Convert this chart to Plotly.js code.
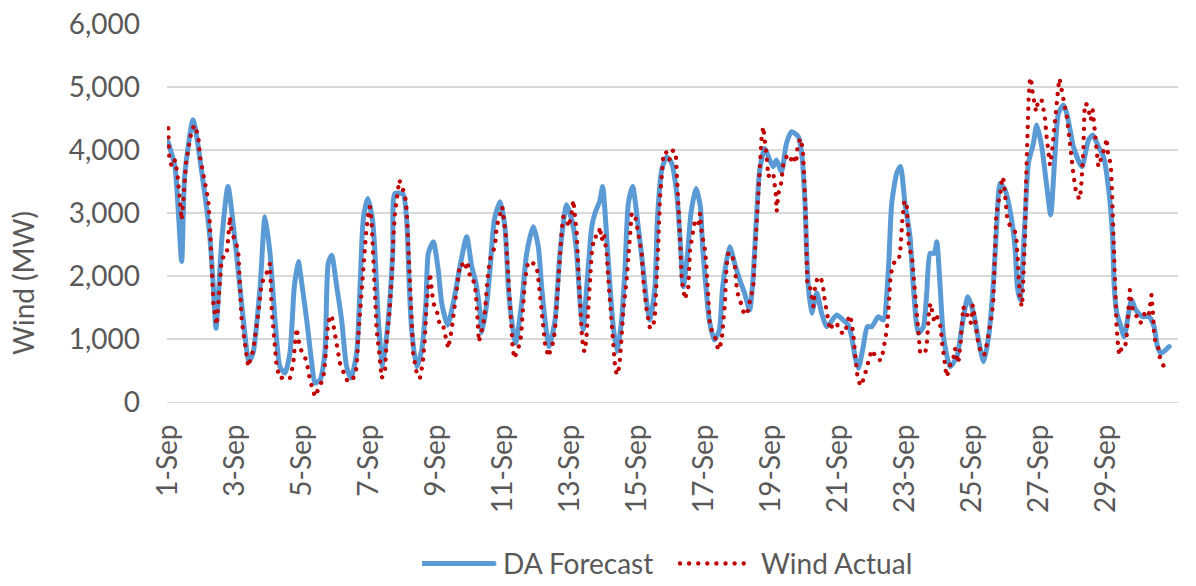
<!DOCTYPE html>
<html>
<head>
<meta charset="utf-8">
<script src="https://cdn.plot.ly/plotly-3.0.1.min.js"></script>
<style>
  html, body { margin: 0; padding: 0; background: #ffffff; }
  #chart { width: 1196px; height: 586px; }
  .js-line { stroke-linecap: round; stroke-linejoin: round; }
</style>
</head>
<body>
<div id="chart"></div>
<script>
// ---- Data (hour offsets from 1-Sep 00:00, MW values) ----
const dayLabels = ['1-Sep','3-Sep','5-Sep','7-Sep','9-Sep','11-Sep','13-Sep','15-Sep',
                   '17-Sep','19-Sep','21-Sep','23-Sep','25-Sep','27-Sep','29-Sep'];

const forecastHours = [0,5,9.8,12,18,25,30,32.5,34.4,38.7,43,49,54,58,61,66,69.5,73.1,76.7,80.2,83.8,87.4,90.5,93.4,95.8,99.4,103,105.3,108.9,112.4,114.8,117.3,120.9,124.4,128,131.1,135.2,137.6,139.9,143.1,146.5,148.3,150.7,153.8,157.8,161,162.6,168.4,171,172.9,174.6,178.2,181.8,184.8,186.5,190.1,193.6,196.1,200.4,204.4,209.2,214,217.6,220.5,223.6,224.8,228.4,230.7,233.8,237.9,241.4,243.8,246.2,249.1,253.4,257,261.7,265.3,267.7,270.1,273,277.3,280.8,285.6,290.4,292.8,295.5,297.5,300,303.6,305.9,309.5,311.4,314.3,316.7,319,321.9,325,327.4,329.8,332.9,336.9,340.5,343,345.3,348.9,350.6,353.7,357.3,360.9,364.5,366.8,369.2,372,374.7,378.3,381.4,383,385.4,387.8,391.4,395,397.4,402.4,406,409.6,413.1,416.7,419.1,421.5,423.9,427.5,431.1,433.5,435.9,439.5,443.1,446.7,451.6,454,456.4,457.6,458.8,461.2,464.8,468.3,471.9,479.1,483.8,487.4,489.8,492.2,494.6,498.1,501,504.2,508.9,512.5,516.1,518.5,522.1,524.8,528,531.6,534,537.6,541.2,543.6,546,549.1,550.8,553.2,555.6,560.4,565.2,568.8,573.1,577.1,580.7,584.3,587.9,591.5,593.9,596.1,599.7,603.2,606.8,608.5,610.4,614,616.4,620,622.4,626,629.6,632.4,635.5,637.9,641.5,643.9,646.3,648.7,654.7,659.5,662.6,666.7,670.3,674.3,676.7,677.9,679.8,682.7,685,688.6,690.3,693.4,698.2,702.9,706.5,708.9,711.3,717.3];
const forecastMW = [4130,3735,2230,3600,4480,3520,2620,1830,1170,2620,3420,2360,1300,640,780,1830,2940,2360,1300,560,460,780,1830,2230,1890,1300,620,300,350,780,2200,2330,1830,1300,560,380,780,1830,2890,3230,2900,2360,1300,560,1300,2360,3310,3300,2890,1830,1140,560,830,1570,2360,2545,2100,1570,1220,1570,2150,2625,2150,1900,1410,1100,1570,2100,2890,3180,2780,1830,1300,935,1570,2360,2780,2465,1830,1300,880,1300,2360,3130,2780,2360,1500,1150,1830,2780,2995,3200,3420,2625,1830,1195,800,1300,2100,3150,3420,2780,2100,1570,1300,1830,2890,3680,3890,3790,3310,2625,1830,2300,3000,3390,3100,2465,1830,1300,985,1140,1830,2465,2200,1940,1730,1460,1940,2890,3680,4025,3840,3735,3840,3655,4105,4290,4210,3945,3150,2360,1830,1410,1730,1410,1195,1380,1300,1220,1035,720,535,880,1195,1195,1355,1300,2100,3150,3630,3740,3150,2625,1830,1090,1195,1730,2360,2360,2545,1830,1035,560,720,1195,1670,1410,985,640,1035,1940,2890,3470,3365,3050,2465,1830,1620,2890,3790,4105,4395,4050,3420,2970,3945,4580,4715,4580,4320,4050,3735,4160,4240,4050,3890,3300,2625,1830,1410,1195,1035,1460,1620,1460,1355,1355,1195,880,770,880];

const actualHours = [0.2,0.9,2.7,5,6.7,8.6,9.8,11,12.9,15.3,17,19.3,21.7,22.9,24.1,26.5,28.9,30.1,31.3,32.5,34.9,37.3,38.5,42.1,43.2,44.4,45.6,48.7,50.4,51.6,52.8,57.5,61.1,64.7,67.1,70.7,73.1,74.3,76.2,77.9,80.2,83.8,87.4,89.8,91,92.2,94.6,96.9,99.4,101.7,105.3,107.7,110.1,112,113.7,114.8,117.3,119.6,120.9,123.2,128,131.1,134,135.2,136.3,138.3,139.9,141.9,144,144.7,145.9,147.1,148.3,149.5,151.4,153.1,155.5,156.7,158.6,160.3,161.5,162.6,165.7,167.4,169.8,171,172.2,173.4,174.6,175.7,178.2,180.5,182.5,184.1,185.3,186.5,187.7,190.1,192.5,193.6,194.9,197.2,199.2,200.8,203.2,204.9,206.8,208.7,210.4,212.8,214.4,216.4,217.6,219.9,221.1,221.8,222.7,225.8,227,228.9,230.5,232.2,234.3,235.4,237.1,239.5,241.9,243.4,244.5,245.7,246.9,248.1,251,252.9,254.6,255.8,257,258.1,261.7,264.1,265.3,266.5,267.7,268.9,270.1,272.5,276,277.3,278.5,279.6,280.8,282.1,283.2,285.6,286.8,288.7,290.4,291.6,292.8,294,295.2,296.4,297.6,298.8,300,301.2,302.4,303.6,305.3,308.4,309.5,310.7,312.4,314.3,315.5,316.7,317.9,319.1,320.3,321.5,323.4,325,326.2,328.6,329.8,331,332.2,334.6,336.9,339.4,340.5,341.7,342.9,345.3,347.7,348.9,350.1,351.2,352.4,353.6,354.8,356.7,359.1,360.8,362,363.9,364.4,365.6,366.8,368,370.4,372.8,374,375.2,376.4,377.6,380,381.2,382.4,383.6,384.8,385.9,387.1,388.3,391.9,394.2,396.6,397.8,399,400.2,401.4,403.8,406.2,407.4,408.6,411,412.2,414.6,417,419.3,420.5,421.7,422.9,424.1,425.3,426.5,427.7,428.9,430.1,431.3,433.7,435.4,436.1,437.3,439.2,440.8,443.2,445.6,448,450,450.9,452.9,454.8,455.7,456.4,457.1,457.6,458,459.5,461.2,462.4,463.6,465.2,467.2,469,470.7,471.9,473.1,474.3,476.6,479.1,480.9,483.3,485,486.6,488.1,489.8,490.7,491.4,492.2,493.3,494.1,496.2,498.6,500.5,502.1,504.1,506.4,508.8,511.2,512.4,513.6,514.8,516,516.7,517.7,519.6,522,524.4,525.1,525.6,526.1,527.5,529.2,529.9,530.4,530.9,532.8,534,535.7,536.4,537.6,538.8,540.4,542.4,543.6,544,544.8,545.5,546.7,547.6,549.1,550.8,552.4,553.9,554.3,555.5,556.2,556.7,557.9,559.5,561,562.6,563.8,565,566.2,566.9,567.9,568.6,569.1,569.8,571.5,573.4,575.3,576.5,577.7,579.4,580.5,582.5,584.8,586.5,587.7,588.9,590.1,591.3,592,592.5,593.2,594.4,596.1,596.8,597.8,598.9,599.6,600.3,600.8,601.3,603.7,606.8,608,608.7,609.4,610.4,611.6,612.3,613.2,614,614.7,615.6,616.6,617.6,618.8,619.5,620.4,621.9,623.5,625.9,627.1,628.3,629.5,630.7,631.9,633.1,634.3,635.5,636.7,637.9,638.7,641.1,642.7,643.9,645.5,646.7,648.6,650.5,652.9,654.1,655,655.8,656.5,657,658.7,660.1,661.1,662.5,663.5,664.6,665.8,666.5,667.7,668.9,671.3,672.5,673.6,675.4,676.1,677,677.7,678.6,679.6,680.7,681.5,683.1,685.5,686.7,687.4,688.4,689.1,690.7,692.1,694.3,696.7,698.6,701,702.8,703.8,704.6,705.7,706.4,707.6,709.3,710.5,711.7,712.9,716.5];
const actualMW = [4345,3895,3735,3840,3630,3155,2890,3200,3790,4105,4320,4395,4210,3895,3735,3470,3200,2780,2150,1570,1220,1830,2280,2330,2625,2940,2680,2545,2360,1830,1300,560,830,1410,1885,2045,2200,1460,985,560,375,400,375,615,930,1170,850,770,640,350,85,215,320,480,930,1275,1380,1065,905,615,350,320,430,560,1035,1670,2250,2680,3075,3100,2850,2360,1730,1140,770,375,510,985,1410,1940,2625,2995,3525,3420,3285,3050,2360,1670,1195,770,455,375,615,1035,1565,1885,2045,1570,1460,1330,1205,1205,1035,850,1140,1410,1830,2120,2200,2100,2230,1990,1990,1860,1570,1200,955,1220,1410,1940,2250,2360,2465,2780,2940,3100,2680,2100,1620,1195,880,690,850,1035,1620,1940,2100,2230,2200,2150,1965,1670,1380,1220,930,720,955,1140,1570,2045,2360,2730,2940,2915,2780,2915,3205,2995,2680,2100,1460,1100,825,800,1090,1565,1990,2360,2625,2625,2780,2570,2680,2360,1940,1565,1195,880,560,430,560,1035,1460,1940,2360,2730,2995,2970,2680,2360,1940,1620,1460,1170,1200,1405,1830,2465,3205,3680,3890,3975,3840,3945,4000,3900,3735,3150,2625,1940,1630,1830,2410,2570,2730,2890,2835,2995,2680,2520,2410,2100,1515,1195,1035,825,955,1250,1565,2175,2360,2360,2150,1830,1670,1540,1435,1380,1620,1830,2360,2890,3420,3790,4210,4370,4160,3895,3575,3630,3630,3310,3025,3310,3470,3760,3895,3815,3920,3790,4025,4185,4025,3680,3260,2780,2305,1885,1885,1620,1515,1830,1965,1990,1885,1590,1435,1275,1140,1250,1250,1140,1090,1090,1250,1380,1275,1140,985,770,560,375,255,375,535,690,825,745,665,665,800,955,1115,1405,1725,2015,2175,2305,2305,2570,2730,2890,3180,3180,2860,2570,2410,2360,2045,1565,1275,985,800,770,770,905,1065,1355,1515,1565,1405,1275,1355,1300,1140,985,850,690,560,400,510,640,690,850,720,615,770,930,1195,1380,1515,1380,1380,1250,1540,1380,1090,930,770,745,905,1035,1220,1355,1620,1940,2360,2890,3130,3285,3445,3575,3500,3340,3205,3050,2890,2780,2700,2545,2255,1940,1645,1515,1670,2200,2625,3470,4240,4845,5150,5060,4900,4740,4610,4795,4795,4660,4500,4210,3895,3760,3920,4240,4530,4845,5005,5135,4845,4685,4530,4240,3945,3630,3340,3215,3365,3655,4000,4580,4740,4715,4580,4475,4635,4345,4185,3895,3735,3800,3895,4050,4185,3895,3790,3470,2890,2255,1670,1195,880,745,850,850,1010,1300,1620,1780,1515,1405,1355,1250,1355,1460,1405,1565,1700,1405,1090,930,880,720,640,585,510];

const grey = '#595959';
const fontFamily = 'Lato, "Open Sans", sans-serif';

const traces = [
  {
    x: forecastHours, y: forecastMW, type: 'scatter', mode: 'lines', name: 'DA Forecast',
    line: { color: '#5B9BD5', width: 5, shape: 'spline', smoothing: 0.6 }, hoverinfo: 'skip'
  },
  {
    x: actualHours, y: actualMW, type: 'scatter', mode: 'lines', name: 'Wind Actual',
    line: { color: '#C00000', width: 4.3, dash: '0.1px,9px' }, hoverinfo: 'skip'
  }
];

const layout = {
  width: 1196, height: 586,
  margin: { l: 167, r: 18, t: 24, b: 184, autoexpand: false },
  paper_bgcolor: '#ffffff', plot_bgcolor: '#ffffff',
  font: { family: fontFamily, size: 28, color: grey },
  showlegend: true,
  legend: {
    orientation: 'h', x: 0.2522, xanchor: 'left', y: -0.428, yanchor: 'middle',
    font: { family: fontFamily, size: 28, color: grey }, itemwidth: 71,
    entrywidth: 172, entrywidthmode: 'pixels',
    bgcolor: 'rgba(0,0,0,0)'
  },
  xaxis: {
    range: [-0.7, 723.6], tickmode: 'array',
    tickvals: dayLabels.map((_, i) => i * 48), ticktext: dayLabels,
    tickangle: -90, showgrid: false, zeroline: false,
    showline: true, linecolor: '#d9d9d9', linewidth: 1.3,
    ticks: '', ticklabelstandoff: 10, automargin: false,
    tickfont: { family: fontFamily, size: 28, color: grey }
  },
  yaxis: {
    range: [0, 6000], dtick: 1000, tickformat: ',d',
    showgrid: true, gridcolor: '#d9d9d9', gridwidth: 1.3, zeroline: false,
    ticks: '', ticklabelstandoff: 26, automargin: false,
    tickfont: { family: fontFamily, size: 28, color: grey }
  },
  annotations: [{
    text: 'Wind (MW)', textangle: -90, showarrow: false,
    xref: 'paper', yref: 'paper', x: -0.1424, y: 0.315,
    xanchor: 'center', yanchor: 'middle',
    font: { family: fontFamily, size: 28, color: grey }
  }]
};

Plotly.newPlot('chart', traces, layout, { displayModeBar: false, staticPlot: true }).then(function () {
  document.querySelectorAll('.legend .legendlines path').forEach(function (p) {
    p.setAttribute('d', 'M0,0h72');
  });
});
</script>
</body>
</html>
